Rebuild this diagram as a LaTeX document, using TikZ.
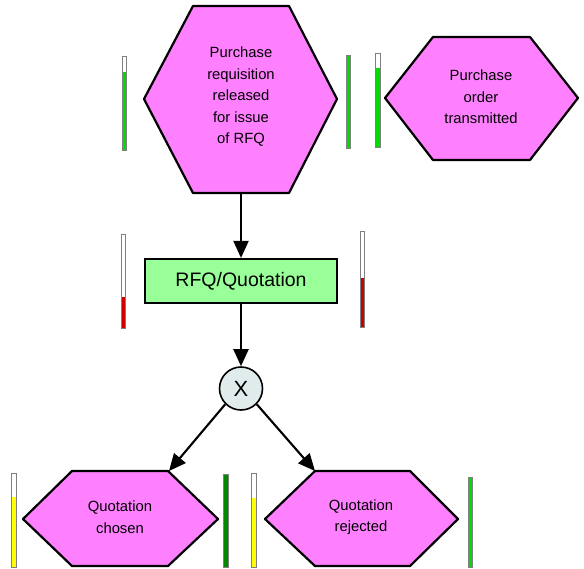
\documentclass[tikz,border=0pt]{standalone}
\usepackage{fontspec}
\setmainfont{Liberation Sans}
\usetikzlibrary{arrows.meta}
\definecolor{evpink}{HTML}{FF80FF}
\definecolor{fnGreen}{HTML}{99FF99}
\definecolor{xorFill}{HTML}{E0ECEC}
\definecolor{barGreen}{HTML}{00DD00}
\definecolor{barDkGreen}{HTML}{008800}
\definecolor{barRed}{HTML}{CC0000}
\definecolor{barYellow}{HTML}{FFFF00}
\newcommand\kpibar[5]{%
  \fill[white] (#1-2.2,#2) rectangle (#1+2.2,#3);
  \fill[#5] (#1-2.2,#4) rectangle (#1+2.2,#3);
  \draw[barframe] (#1-2.2,#2) rectangle (#1+2.2,#3);}
\begin{document}
\begin{tikzpicture}[x=1pt,y=-1pt,
  hexshape/.style={draw=black,line width=2.2pt,fill=evpink,line join=round},
  evtext/.style={align=center,font=\fontsize{14.8}{21.5}\selectfont,text=black},
  fnbox/.style={draw=black,line width=2.2pt,fill=fnGreen,minimum width=192pt,minimum height=44pt,
     font=\fontsize{19.5}{22}\selectfont},
  xorgate/.style={circle,draw=black,line width=1.6pt,fill=xorFill,minimum size=43pt,inner sep=0pt,
     font=\fontsize{22}{24}\selectfont},
  flow/.style={line width=2.1pt,-{Triangle[length=17pt,width=15pt]}},
  barframe/.style={draw=gray,line width=0.9pt}]
\useasboundingbox (0,0) rectangle (584,568);

% Event 1
\draw[hexshape] (144,99) -- (193,6) -- (289,6) -- (337,99) -- (289,193) -- (193,193) -- cycle;
\node[evtext] (e1) at (241,97) {Purchase\\requisition\\released\\for issue\\of RFQ};
\coordinate (e1b) at (241,193);

% Event 2
\draw[hexshape] (385,98) -- (433,37) -- (530,37) -- (578,98) -- (530,160) -- (433,160) -- cycle;
\node[evtext] (e2) at (481,97) {Purchase\\order\\transmitted};

% Function
\node[fnbox] (f) at (241,281) {RFQ/Quotation};

% XOR
\node[xorgate] (x) at (241,388.5) {X};

% Lower events
\draw[hexshape] (23,519) -- (72,471) -- (168,471) -- (218,519) -- (168,566) -- (72,566) -- cycle;
\node[evtext] (e3) at (120,517) {Quotation\\chosen};
\coordinate (e3t) at (169,471);
\draw[hexshape] (265,519) -- (315,471) -- (410,471) -- (458,519) -- (410,566) -- (315,566) -- cycle;
\node[evtext] (e4) at (361,517) {Quotation\\rejected};
\coordinate (e4t) at (315,471);

% Connectors
\draw[flow] (e1b) -- (f.north);
\draw[flow] (f.south) -- (x.north);
\draw[flow] (x.225) -- (e3t);
\draw[flow] (x.315) -- (e4t);

% KPI bars
\kpibar{124.5}{56}{150}{72}{barGreen}
\kpibar{348.5}{55}{148}{55}{barGreen}
\kpibar{378}{53}{147}{68}{barGreen}
\kpibar{123.5}{234}{328}{297}{barRed}
\kpibar{362.5}{231}{327}{278}{barRed}
\kpibar{14}{473}{567}{497}{barYellow}
\kpibar{226}{474}{567}{474}{barDkGreen}
\kpibar{254}{473}{567}{498}{barYellow}
\kpibar{470.5}{477}{567}{477}{barGreen}
\end{tikzpicture}
\end{document}
